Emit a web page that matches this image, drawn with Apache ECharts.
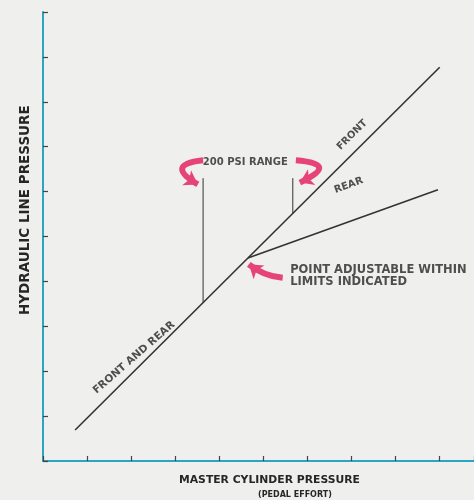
<!DOCTYPE html>
<html><head><meta charset="utf-8">
<script src="https://cdn.jsdelivr.net/npm/echarts@6/dist/echarts.min.js"></script>
<style>html,body{margin:0;padding:0;background:#efefed}#c{width:474px;height:500px}</style>
</head><body><div id="c"></div>
<script>
// Data (in axis units)
const frontRear = [[0.73, 0.69], [4.66, 4.52]];
const front = [[4.66, 4.52], [9.02, 8.77]];
const rear = [[4.66, 4.52], [8.98, 6.04]];
const rangeLow = [[3.64, 6.30], [3.64, 3.53]];
const rangeHigh = [[5.68, 6.30], [5.68, 5.52]];
const arrows = [
  {coords: [[3.64, 6.70], [3.52, 6.16]], curve: -1.5},
  {coords: [[5.75, 6.70], [5.84, 6.20]], curve: 1.9},
  {coords: [[5.45, 4.08], [4.68, 4.38]], curve: 0.15}
];
const labels = [
  {text: '200 PSI RANGE', pos: [4.60, 6.66], rot: 0, align: 'center', size: 10},
  {text: 'FRONT', pos: [7.03, 7.26], rot: 45, align: 'center', size: 10},
  {text: 'REAR', pos: [6.95, 6.14], rot: 20, align: 'center', size: 10},
  {text: 'FRONT AND REAR', pos: [2.07, 2.30], rot: 41, align: 'center', size: 10.5},
  {text: 'POINT ADJUSTABLE WITHIN', pos: [5.62, 4.25], rot: 0, align: 'left', size: 11.5},
  {text: 'LIMITS INDICATED', pos: [5.62, 3.98], rot: 0, align: 'left', size: 11.5}
];
const xTitle = 'MASTER CYLINDER PRESSURE';
const xSub = '(PEDAL EFFORT)';
const yTitle = 'HYDRAULIC LINE PRESSURE';

const chart = echarts.init(document.getElementById('c'));
const font = '"DejaVu Sans", sans-serif';
function seg(d, w) {
  return {type: 'line', data: d, symbol: 'none', silent: true, animation: false,
    lineStyle: {color: '#333', width: w}};
}
chart.setOption({
  backgroundColor: '#efefed',
  animation: false,
  grid: {left: 43, right: 0, top: 12, bottom: 39},
  xAxis: {type: 'value', min: 0, max: 9.8, interval: 1,
    axisLine: {lineStyle: {color: '#2aa6c2', width: 2}},
    axisTick: {inside: true, length: 5, lineStyle: {color: '#444', width: 1.2}},
    axisLabel: {show: false}, splitLine: {show: false}},
  yAxis: {type: 'value', min: 0, max: 10, interval: 1,
    axisLine: {lineStyle: {color: '#2aa6c2', width: 2}},
    axisTick: {inside: true, length: 5, lineStyle: {color: '#444', width: 1.2}},
    axisLabel: {show: false}, splitLine: {show: false}},
  graphic: [
    {type: 'text', left: 179, top: 475, style: {text: xTitle, font: 'bold 10.8px ' + font, fill: '#262626'}},
    {type: 'text', left: 258, top: 491, style: {text: xSub, font: 'bold 8px ' + font, fill: '#262626'}},
    {type: 'text', x: 18, y: 315, rotation: Math.PI / 2, style: {text: yTitle, font: 'bold 13.5px ' + font, fill: '#262626'}}
  ],
  series: [
    seg(frontRear, 1.6), seg(front, 1.6), seg(rear, 1.6),
    seg(rangeLow, 1), seg(rangeHigh, 1),
    {type: 'lines', coordinateSystem: 'cartesian2d', silent: true,
      symbol: ['none', 'arrow'], symbolSize: 13,
      lineStyle: {color: '#e6437a', width: 6, opacity: 1},
      data: arrows.map(a => ({coords: a.coords, lineStyle: {curveness: a.curve}}))},
    {type: 'scatter', symbolSize: 0, silent: true,
      data: labels.map(l => ({value: l.pos, label: {show: true, formatter: l.text, rotate: l.rot,
        position: 'inside', align: l.align, verticalAlign: 'middle',
        fontFamily: font, fontWeight: 'bold', fontSize: l.size, color: '#262626'}}))}
  ]
});
</script></body></html>
